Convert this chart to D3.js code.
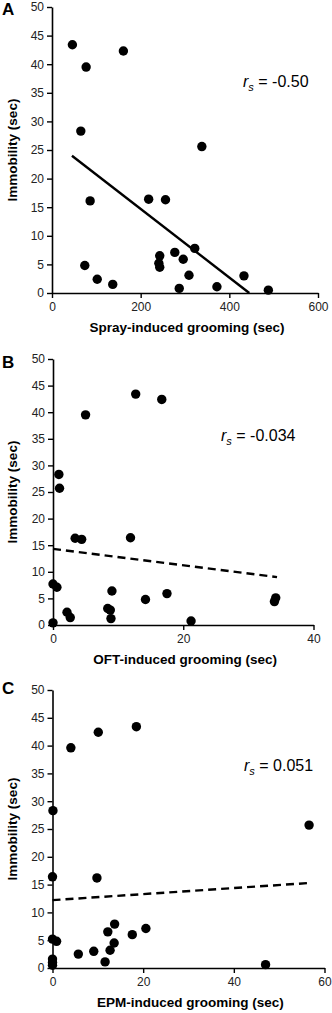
<!DOCTYPE html>
<html>
<head>
<meta charset="utf-8">
<script src="https://cdn.jsdelivr.net/npm/d3@7"></script>
<style>
  html, body { margin: 0; padding: 0; background: #fff; }
  svg { display: block; font-family: "Liberation Sans", Arial, sans-serif; }
</style>
</head>
<body>
<svg id="chart" width="332" height="1013"></svg>
<script>
// ---------- data ----------
const sprayX = [46, 77, 161, 65, 338, 86, 218, 256, 322, 277, 243, 296, 241, 243, 74, 102, 137, 309, 287, 372, 433, 488];
const sprayY = [43.4, 39.5, 42.3, 28.3, 25.6, 16.1, 16.4, 16.3, 7.8, 7.1, 6.5, 5.9, 5.2, 4.5, 4.8, 2.4, 1.5, 3.1, 0.8, 1.1, 3.0, 0.5];
const sprayFitX = [45, 445];
const sprayFitY = [24.0, 0];

const oftX = [5.0, 12.7, 16.7, 0.9, 1.0, 3.4, 4.4, 11.9, 0, 0.6, 9.05, 17.5, 14.2, 34.2, 34.0, 8.4, 8.8, 2.15, 2.65, 8.9, 21.2, 0];
const oftY = [39.5, 43.4, 42.4, 28.3, 25.7, 16.3, 16.1, 16.4, 7.7, 7.1, 6.4, 5.9, 4.8, 5.1, 4.4, 3.1, 2.8, 2.4, 1.4, 1.2, 0.75, 0.4];
const oftFitX = [0, 34.4];
const oftFitY = [14.3, 9.0];

const epmX = [4.05, 10.1, 18.5, 0.1, 56.6, 0, 9.8, 13.7, 20.6, 12.2, 17.6, 0, 0.9, 13.6, 12.7, 9.1, 5.7, 0, 0, 0, 11.6, 47.0];
const epmY = [39.6, 42.4, 43.4, 28.3, 25.7, 16.4, 16.2, 7.9, 7.1, 6.5, 6.0, 5.2, 4.8, 4.5, 3.2, 3.0, 2.5, 1.6, 1.0, 0.5, 1.1, 0.6];
const epmFitX = [0, 56.9];
const epmFitY = [12.2, 15.3];

const yTicks = [0, 5, 10, 15, 20, 25, 30, 35, 40, 45, 50];
const sprayTicks = [0, 200, 400, 600];
const oftTicks = [0, 20, 40];
const epmTicks = [0, 20, 40, 60];

const panelLabels = ["A", "B", "C"];
const xTitles = ["Spray-induced grooming (sec)", "OFT-induced grooming (sec)", "EPM-induced grooming (sec)"];
const yTitle = "Immobility (sec)";
const rsValues = ["-0.50", "-0.034", "0.051"];

// ---------- layout ----------
const panels = [
  { xs: sprayX, ys: sprayY, fx: sprayFitX, fy: sprayFitY, xmax: 600, xt: sprayTicks, dashed: false,
    left: 52, right: 318, top: 7, bottom: 293, labelY: 15, rsX: 243, rsY: 87 },
  { xs: oftX, ys: oftY, fx: oftFitX, fy: oftFitY, xmax: 40, xt: oftTicks, dashed: true,
    left: 53, right: 313.5, top: 359, bottom: 625, labelY: 368, rsX: 221, rsY: 441 },
  { xs: epmX, ys: epmY, fx: epmFitX, fy: epmFitY, xmax: 60, xt: epmTicks, dashed: true,
    left: 52.5, right: 324.5, top: 690, bottom: 968, labelY: 694, rsX: 244, rsY: 771 }
];

const svg = d3.select("#chart");

panels.forEach((p, i) => {
  const x = d3.scaleLinear().domain([0, p.xmax]).range([p.left, p.right]);
  const y = d3.scaleLinear().domain([0, 50]).range([p.bottom, p.top]);
  const g = svg.append("g");

  // y axis
  const ya = g.append("g")
    .attr("transform", `translate(${p.left},0)`)
    .call(d3.axisLeft(y).tickValues(yTicks).tickSize(5).tickPadding(3).tickSizeOuter(0));
  // x axis
  const xa = g.append("g")
    .attr("transform", `translate(0,${p.bottom})`)
    .call(d3.axisBottom(x).tickValues(p.xt).tickSize(5).tickPadding(4).tickSizeOuter(0));

  [ya, xa].forEach(a => {
    a.select(".domain").attr("stroke", "#000").attr("stroke-width", 1.6);
    a.selectAll(".tick line").attr("stroke", "#000").attr("stroke-width", 1.4);
    a.selectAll(".tick text").attr("fill", "#222").attr("font-size", 12)
      .attr("font-family", "'Liberation Sans', Arial, sans-serif");
  });

  // regression line
  const line = d3.line().x(d => x(d[0])).y(d => y(d[1]));
  g.append("path")
    .datum(d3.zip(p.fx, p.fy))
    .attr("d", line)
    .attr("fill", "none")
    .attr("stroke", "#000")
    .attr("stroke-width", 2.4)
    .attr("stroke-dasharray", p.dashed ? "8,5" : null);

  // points
  g.selectAll("circle.pt")
    .data(d3.zip(p.xs, p.ys))
    .join("circle")
    .attr("class", "pt")
    .attr("cx", d => x(d[0]))
    .attr("cy", d => y(d[1]))
    .attr("r", 4.7)
    .attr("fill", "#000");

  // panel label
  g.append("text")
    .attr("x", 2).attr("y", p.labelY)
    .attr("font-size", 17).attr("font-weight", "bold")
    .text(panelLabels[i]);

  // x title
  g.append("text")
    .attr("x", (p.left + p.right) / 2 + 2)
    .attr("y", p.bottom + 39)
    .attr("text-anchor", "middle")
    .attr("font-size", 13.5).attr("font-weight", "bold")
    .text(xTitles[i]);

  // y title
  g.append("text")
    .attr("transform", `translate(17,${(p.top + p.bottom) / 2}) rotate(-90)`)
    .attr("text-anchor", "middle")
    .attr("font-size", 13.5).attr("font-weight", "bold")
    .text(yTitle);

  // r_s annotation
  const t = g.append("text")
    .attr("x", p.rsX).attr("y", p.rsY)
    .attr("font-size", 16);
  t.append("tspan").attr("font-style", "italic").text("r");
  t.append("tspan").attr("font-style", "italic").attr("font-size", 11).attr("dy", 4).text("s");
  t.append("tspan").attr("dy", -4).text(" = " + rsValues[i]);
});
</script>
</body>
</html>
